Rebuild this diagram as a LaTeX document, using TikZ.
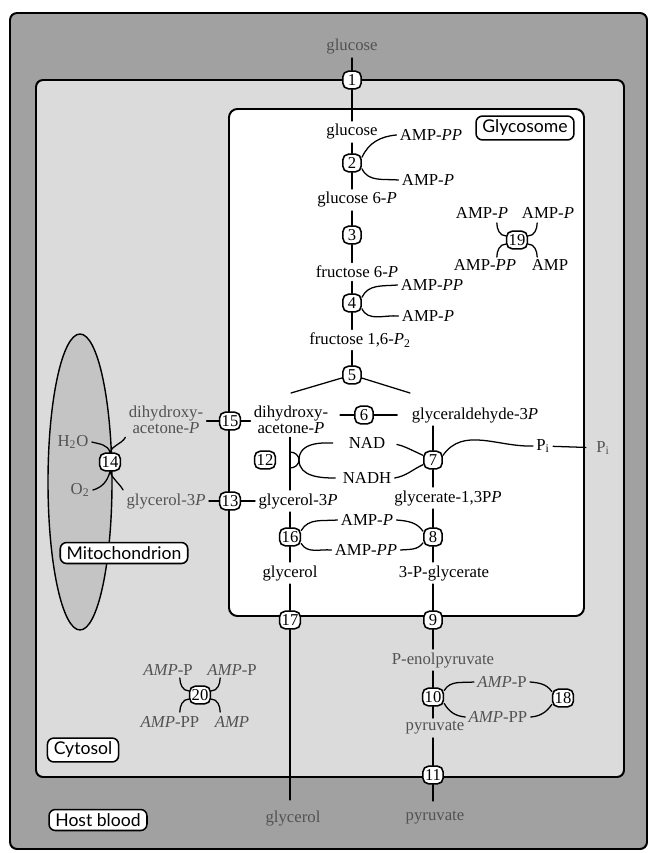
\documentclass[tikz,border=0pt]{standalone}
\usepackage{fontspec}
\setmainfont{Liberation Serif}
\newfontfamily\labelfont{Lato}
\usetikzlibrary{calc}

\definecolor{hostgray}{gray}{0.63}
\definecolor{cytogray}{gray}{0.86}
\definecolor{mitogray}{gray}{0.77}
\definecolor{outtext}{gray}{0.32}

\tikzset{
  enz/.style={draw, fill=white, rounded corners=4pt, line width=1.1pt,
    minimum width=0.46cm, minimum height=0.44cm, inner sep=1.5pt,
    font=\fontsize{11.8}{12}\selectfont},
  met/.style={inner sep=2pt, align=center, font=\fontsize{11.9}{11.4}\selectfont},
  outmet/.style={met, text=outtext},
  compart/.style={draw, fill=white, rounded corners=4.5pt, line width=1.1pt,
    inner xsep=4.5pt, inner ysep=2.8pt, font=\labelfont\fontsize{12.5}{14}\selectfont},
  wall/.style={draw, line width=1.4pt, rounded corners=5pt},
}

\begin{document}
\begin{tikzpicture}[x=0.025cm, y=-0.025cm, line width=0.9pt, line cap=round]
\useasboundingbox (0,0) rectangle (654,853);

% ----------------------------
% COMPARTMENTS
% ----------------------------
\draw[wall, fill=hostgray] (10,13) rectangle (647,849);
\draw[wall, fill=cytogray] (36,80) rectangle (624,777);
\draw[wall, fill=white, rounded corners=6pt] (229,109) rectangle (584,616);
\draw[line width=1pt, fill=mitogray] (80,482) ellipse [x radius=32, y radius=148];

\node[compart] (glycosome) at (525,128) {Glycosome};
\node[compart] (mito) at (124,553) {Mitochondrion};
\node[compart] (cytosol) at (83,750) {Cytosol};
\node[compart] (host) at (98,820) {Host blood};

% ----------------------------
% HEXOSE PART
% ----------------------------
\node[outmet] (glcout) at (352,47) {glucose};
\node[enz] (e1) at (352,80) {1};
\node[met] (glcin) at (352,132) {glucose};
\node[enz] (e2) at (352,163) {2};
\node[met] (amp2a) at (431,135) {AMP-\textit{PP}};
\node[met] (amp2b) at (428,180) {AMP-\textit{P}};
\node[met] (g6p) at (357,200) {glucose 6-\textit{P}};
\node[enz] (e3) at (352,235) {3};
\node[met] (f6p) at (357,272) {fructose 6-\textit{P}};
\node[enz] (e4) at (352,303) {4};
\node[met] (amp4a) at (432,285) {AMP-\textit{PP}};
\node[met] (amp4b) at (428,316) {AMP-\textit{P}};
\node[met] (fbp) at (360,340) {fructose 1,6-\textit{P}\textsubscript{2}};
\node[enz] (e5) at (352,375) {5};
\coordinate (split-l) at (291,393);
\coordinate (split-r) at (410,393);

% ----------------------------
% TRIOSE PART
% ----------------------------
\node[met] (dhap) at (291,420) {dihydroxy-\\acetone-\textit{P}};
\node[enz] (e6) at (364,415) {6};
\node[met] (gap) at (475,415) {glyceraldehyde-3\textit{P}};
\node[enz] (e15) at (230,421) {15};
\node[outmet] (dhapout) at (166,420) {dihydroxy-\\acetone-\textit{P}};

\node[met] (nad) at (367,443) {NAD};
\node[met] (nadh) at (367,478) {NADH};
\node[enz] (e12) at (265,460) {12};
\node[enz] (e7) at (433,460) {7};
\node[met] (piin) at (543,446) {P\textsubscript{i}};
\node[outmet] (piout) at (603,448) {P\textsubscript{i}};

\node[met] (g3p) at (298,501) {glycerol-3\textit{P}};
\node[enz] (e13) at (230,501) {13};
\node[outmet] (g3pout) at (166,501) {glycerol-3\textit{P}};
\node[met] (bpg) at (448,498) {glycerate-1,3P\textit{P}};

\node[enz] (e16) at (290,537) {16};
\node[enz] (e8) at (433,537) {8};
\node[met] (amp8a) at (367,520) {AMP-\textit{P}};
\node[met] (amp8b) at (366,550) {AMP-\textit{PP}};
\node[met] (glyin) at (290,573) {glycerol};
\node[met] (pga) at (444,573) {3-P-glycerate};
\node[enz] (e17) at (290,620) {17};
\node[enz] (e9) at (433,620) {9};
\node[outmet] (glyout) at (293,818) {glycerol};

% ----------------------------
% CYTOSOL PART
% ----------------------------
\node[outmet] (pep) at (443,660) {P-enolpyruvate};
\node[enz] (e10) at (433,697) {10};
\node[outmet] (amp10a) at (502,682) {\textit{AMP}-P};
\node[outmet] (amp10b) at (498,717) {\textit{AMP}-PP};
\node[enz] (e18) at (563,698) {18};
\node[outmet] (pyrin) at (435,728) {pyruvate};
\node[enz] (e11) at (433,775) {11};
\node[outmet] (pyrout) at (435,818) {pyruvate};

% adenylate kinases
\node[enz] (e19) at (517,240) {19};
\node[met] (amp19a) at (482,213) {AMP-\textit{P}};
\node[met] (amp19b) at (548,213) {AMP-\textit{P}};
\node[met] (amp19c) at (485,265) {AMP-\textit{PP}};
\node[met] (amp19d) at (550,265) {AMP};

\node[enz] (e20) at (200,695) {20};
\node[outmet] (amp20a) at (168,670) {\textit{AMP}-P};
\node[outmet] (amp20b) at (232,670) {\textit{AMP}-P};
\node[outmet] (amp20c) at (170,722) {\textit{AMP}-PP};
\node[outmet] (amp20d) at (232,722) {\textit{AMP}};

% mitochondrial oxidase
\node[enz] (e14) at (110,462) {14};
\node[outmet] (h2o) at (73,442) {H\textsubscript{2}O};
\node[outmet] (o2) at (80,490) {O\textsubscript{2}};

% ----------------------------
% REACTION LINES
% ----------------------------
\draw (glcout) -- (e1) -- (glcin) -- (e2) -- (e2 |- g6p.north);
\draw (e3 |- g6p.south) -- (e3) -- (e3 |- f6p.north);
\draw (e4 |- f6p.south) -- (e4) -- (e4 |- fbp.north);
\draw (e5 |- fbp.south) -- (e5);
\draw (split-l) -- (e5) -- (split-r);

\draw (e2.30) to[out=65,in=185] (amp2a.west);
\draw (e2.-30) to[out=-65,in=175] (amp2b.west);
\draw (e4.30) to[out=65,in=185] (amp4a.west);
\draw (e4.-30) to[out=-65,in=175] (amp4b.west);

\draw[shorten <=6pt] (dhap.east |- e6) -- (e6);
\draw[shorten >=8pt] (e6) -- (gap);
\draw (dhapout.east |- e15) -- (e15) -- (dhap.west |- e15);
\draw (g3pout) -- (e13) -- (g3p);
\draw (e16 |- dhap.south) -- (e16 |- g3p.north);

% 12: coupled to NAD/NADH
\draw ($(e16 |- e12)+(0,-8)$) to[out=0,in=90] ++(9,8) to[out=-90,in=0] ++(-9,8);
\draw[shorten <=9pt, shorten >=3pt] (nad.west) to[out=180,in=90] ($(e16 |- e12)+(9,0)$)
  to[out=-90,in=180] (nadh.west);

% 7
\draw (e7 |- gap.south) -- (e7) -- (e7 |- bpg.north);
\draw[shorten <=6pt] (nad.east) to[out=-10,in=155] (e7.155);
\draw (e7.205) to[out=-155,in=10] (nadh.east);
\draw (e7.25) to[out=55,in=182] (piin.west);
\draw[shorten >=5pt] (piin) -- (piout);

% 16 and 8
\draw (e16 |- g3p.south) -- (e16) -- (glyin);
\draw (e8 |- bpg.south) -- (e8) -- (e8 |- pga.north);
\draw (e16.30) to[out=60,in=185] (amp8a.west);
\draw (amp8a.east) to[out=-5,in=125] (e8.150);
\draw (e16.-30) to[out=-60,in=175] (amp8b.west);
\draw (amp8b.east) to[out=5,in=-125] (e8.210);

% exits to cytosol and blood
\draw (glyin) -- (e17);
\draw[shorten >=5pt] (e17) -- (e17 |- glyout.north);
\draw (e9 |- pga.south) -- (e9) -- (e9 |- pep.north);
\draw (e10 |- pep.south) -- (e10) -- (e10 |- pyrin.north);
\draw (e11 |- pyrin.south) -- (e11);
\draw[shorten >=5pt] (e11) -- (e11 |- pyrout.north);

% 10 and 18
\draw (e10.30) to[out=60,in=185] (amp10a.west);
\draw (amp10a.east) to[out=-5,in=125] (e18.150);
\draw (e10.-30) to[out=-60,in=175] (amp10b.west);
\draw (amp10b.east) to[out=5,in=-125] (e18.210);

% 14
\draw (h2o.east) to[out=-15,in=105] (e14.north);
\draw (e14.north) to[out=70,in=-120] (dhapout.south west);
\draw (o2.east) to[out=15,in=-105] (e14.south);
\draw (e14.south) to[out=-70,in=120] (g3pout.north west);

% legs of 19 and 20
\foreach \n in {e19,e20}
  \foreach \a/\o/\i/\dx/\dy in {160/180/-90/-9/-13, 200/180/90/-9/13,
                                20/0/-90/9/-13, -20/0/90/9/13}
    \draw (\n.\a) to[out=\o,in=\i] ++(\dx,\dy);

\end{tikzpicture}
\end{document}
